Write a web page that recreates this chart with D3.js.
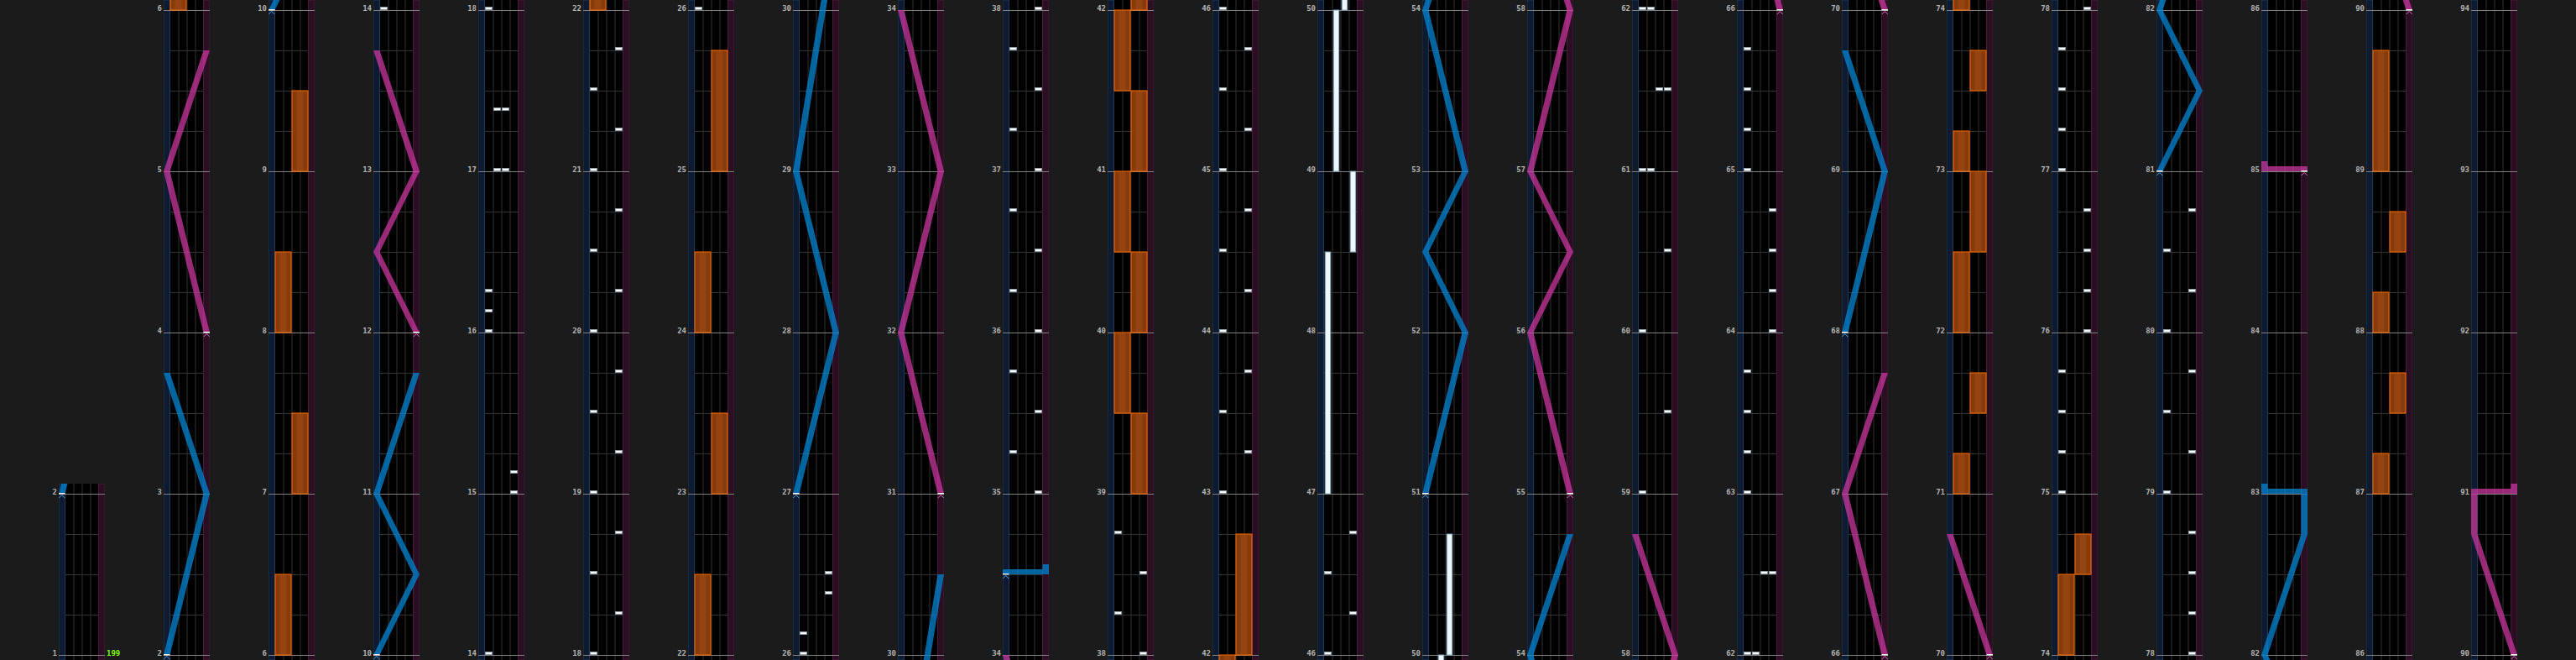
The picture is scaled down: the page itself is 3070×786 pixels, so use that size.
<!DOCTYPE html>
<html><head><meta charset="utf-8">
<script src="https://cdn.jsdelivr.net/npm/d3@7/dist/d3.min.js"></script>
<style>html,body{margin:0;padding:0;background:#1b1b1b;overflow:hidden}</style>
</head><body>
<svg id="chart" width="3070" height="786"></svg>
<script>
// ---------- DATA (positions in measures; lane 0..3 = BT A..D; fx side 0 = L, 1 = R; laser pos 0 = left, 1 = right) ----------
const columnStarts = [1,2,6,10,14,18,22,26,30,34,38,42,46,50,54,58,62,66,70,74,78,82,86,90];
const bpmLabel = "199";

const btChips = [
  [14,0],[15,3],[15.125,3],[16,0],[16.125,0],[16.25,0],[17,1],[17,2],[17.375,1],[17.375,2],[18,0],
  [18.25,3],[18.5,0],[18.75,3],[19,0],[19.25,3],[19.5,0],[19.75,3],[20,0],[20.25,3],[20.5,0],[20.75,3],
  [21,0],[21.25,3],[21.5,0],[21.75,3],
  [26,0],[26.125,0],[26.375,3],[26.5,3],
  [35,3],[35.25,0],[35.5,3],[35.75,0],[36,3],[36.25,0],[36.5,3],[36.75,0],[37,3],[37.25,0],[37.5,3],[37.75,0],
  [38,3],[38.25,0],[38.5,3],[38.75,0],
  [43,0],[43.25,3],[43.5,0],[43.75,3],[44,0],[44.25,3],[44.5,0],[44.75,3],[45,0],[45.25,3],[45.5,0],[45.75,3],
  [46,0],[46.25,3],[46.5,0],[46.75,3],
  [59,0],[59.5,3],[60,0],[60.5,3],[61,0],[61,1],[61.5,2],[61.5,3],[62,0],[62,1],[62.5,2],[62.5,3],
  [63,0],[63.25,0],[63.5,0],[63.75,0],[64,3],[64.25,3],[64.5,3],[64.75,3],[65,0],[65.25,0],[65.5,0],[65.75,0],
  [75,0],[75.25,0],[75.5,0],[75.75,0],[76,3],[76.25,3],[76.5,3],[76.75,3],[77,0],[77.25,0],[77.5,0],[77.75,0],
  [78,3],[78.25,3],[78.5,3],[78.75,3],[79,0],[79.25,3],[79.5,0],[79.75,3],[80,0],[80.25,3],[80.5,0],[80.75,3]
];

const btHolds = [[47,48.5,0],[48.5,49,3],[49,50,1],[50,50.75,2]];

const fxHolds = [
  [6,6.5,0],[7,7.5,1],[8,8.5,0],[9,9.5,1],
  [22,22.5,0],[23,23.5,1],[24,24.5,0],[25,25.75,1],
  [39,39.5,1],[39.5,40,0],[40,40.5,1],[40.5,41,0],[41,41.5,1],[41.5,42,0],[42,42.75,1],
  [71,71.25,0],[71.5,71.75,1],[72,72.5,0],[72.5,73,1],[73,73.25,0],[73.5,73.75,1],[74,74.5,0],[74.5,74.75,1],
  [87,87.25,0],[87.5,87.75,1],[88,88.25,0],[88.5,88.75,1],[89,89.75,0]
];

const laserLeft = [
  [[2,0],[3,1],[3.75,0]],
  [[10,0],[10.5,1],[11,0],[11.75,1]],
  [[27,0],[28,1],[29,0],[30.5,1]],
  [[34.5,0],[34.5,1]],
  [[51,0],[52,1],[52.5,0],[53,1],[54,0],[54.75,1]],
  [[68,0],[69,1],[69.75,0]],
  [[81,0],[81.5,1],[82,0],[82.75,1],[83,1],[83,0]]
];
const laserRight = [
  [[4,1],[5,0],[5.75,1]],
  [[12,1],[12.5,0],[13,1],[13.75,0]],
  [[31,1],[32,0],[33,1],[34,0]],
  [[55,1],[56,0],[56.5,1],[57,0],[58,1],[58.75,0]],
  [[66,1],[67,0],[67.75,1]],
  [[70,1],[70.75,0]],
  [[85,1],[85,0]],
  [[90,1],[90.75,0],[91,0],[91,1]]
];

// ---------- LAYOUT / STYLE ----------
const W = 3070, H = 786;
const colX0 = 70, colStep = 125, colW = 55, laserW = 7.5, btW = 10;
const mPx = 192, bottomY = 780;
const beatsPerMeasure = 4;

const svg = d3.select('#chart');
svg.append('rect').attr('width', W).attr('height', H).attr('fill', '#1b1b1b');
const defs = svg.append('defs');

const colIndex = d3.scaleLinear().domain([0, 1]).range([colX0, colX0 + colStep]);

function laserPath(pts, x, y) {
  let d = '';
  const rect = (xl, xr, yb, yt) => `M${xl},${yb}L${xr},${yb}L${xr},${yt}L${xl},${yt}Z`;
  for (let i = 0; i < pts.length - 1; i++) {
    const a = pts[i], b = pts[i + 1];
    if (a[0] === b[0]) {
      const xl = Math.min(x(a[1]), x(b[1])), xr = Math.max(x(a[1]), x(b[1])) + laserW;
      const yb = y(a[0]);
      d += rect(xl, xr, yb, yb - 6);
    } else {
      d += `M${x(a[1])},${y(a[0])}L${x(a[1]) + laserW},${y(a[0])}L${x(b[1]) + laserW},${y(b[0])}L${x(b[1])},${y(b[0])}Z`;
    }
  }
  const n = pts.length;
  if (n >= 2 && pts[n - 1][0] === pts[n - 2][0]) {
    const e = pts[n - 1];
    d += rect(x(e[1]), x(e[1]) + laserW, y(e[0]), y(e[0]) - 12);
  }
  return d;
}

columnStarts.forEach((base, i) => {
  const x0 = colIndex(i);
  const span = i === 0 ? 1 : 4;
  const y = d3.scaleLinear().domain([base, base + span]).range([bottomY, bottomY - span * mPx]);
  const topM = base + span + 0.0625;
  const topY = Math.max(0, y(topM));
  const loM = y.invert(H);
  const xL = d3.scaleLinear().domain([0, 1]).range([x0, x0 + colW - laserW]);
  const lane = d3.scaleLinear().domain([0, 4]).range([x0 + laserW, x0 + laserW + 4 * btW]);
  const inView = (a, b) => b >= loM - 0.1 && a <= topM + 0.1;

  const clipId = 'clip' + i;
  defs.append('clipPath').attr('id', clipId).append('rect')
    .attr('x', x0).attr('y', topY).attr('width', colW).attr('height', H - topY);

  const g = svg.append('g').attr('clip-path', `url(#${clipId})`);
  g.append('rect').attr('x', x0).attr('y', topY).attr('width', colW).attr('height', H - topY).attr('fill', '#000');

  // laser lanes
  g.append('rect').attr('x', x0).attr('y', topY).attr('width', laserW).attr('height', H - topY)
    .attr('fill', '#0e1a30').attr('stroke', '#1f3a58').attr('stroke-width', 1);
  g.append('rect').attr('x', x0 + colW - laserW).attr('y', topY).attr('width', laserW).attr('height', H - topY)
    .attr('fill', '#2a0e22').attr('stroke', '#4c1a3c').attr('stroke-width', 1);

  // lane dividers
  [1, 2, 3].forEach(k => {
    g.append('line').attr('x1', lane(k) + 0.5).attr('x2', lane(k) + 0.5).attr('y1', topY).attr('y2', H)
      .attr('stroke', '#333').attr('stroke-width', 1);
  });

  // beat lines
  const beats = [];
  for (let m = Math.ceil(loM); m <= topM; m++) {
    for (let b = 1; b < beatsPerMeasure; b++) {
      const t = m + b / beatsPerMeasure;
      if (t >= loM && t <= topM) beats.push(t);
    }
  }
  g.selectAll('line.beat').data(beats).enter().append('line')
    .attr('x1', lane(0)).attr('x2', lane(4)).attr('y1', d => Math.round(y(d)) + 0.5).attr('y2', d => Math.round(y(d)) + 0.5)
    .attr('stroke', '#333').attr('stroke-width', 1);

  // measure lines
  const measures = d3.range(base, base + span + 1);
  g.selectAll('line.meas').data(measures).enter().append('line')
    .attr('x1', x0).attr('x2', x0 + colW).attr('y1', d => y(d) + 0.5).attr('y2', d => y(d) + 0.5)
    .attr('stroke', '#808080').attr('stroke-width', 1);

  // FX holds
  fxHolds.filter(d => inView(d[0], d[1])).forEach(d => {
    const xl = lane(d[2] * 2) + 0.5, w = 2 * btW - 1;
    g.append('rect').attr('x', xl).attr('y', y(d[1])).attr('width', w).attr('height', y(d[0]) - y(d[1]))
      .attr('fill', '#873b0b').attr('stroke', '#ff6c00').attr('stroke-width', 1);
    g.append('rect').attr('x', xl + w / 2 - 4).attr('y', y(d[1]) + 1).attr('width', 8).attr('height', y(d[0]) - y(d[1]) - 2)
      .attr('fill', 'rgba(255,150,70,0.10)');
  });

  // BT holds
  btHolds.filter(d => inView(d[0], d[1])).forEach(d => {
    g.append('rect').attr('x', lane(d[2]) + 1.75).attr('y', y(d[1])).attr('width', 6.5).attr('height', y(d[0]) - y(d[1]))
      .attr('fill', '#eef7fb').attr('stroke', '#7fa6bd').attr('stroke-width', 1);
  });

  // BT chips
  g.selectAll('rect.chip').data(btChips.filter(d => inView(d[0], d[0]))).enter().append('rect')
    .attr('x', d => lane(d[1]) + 1).attr('y', d => y(d[0]) - 3.5).attr('width', btW - 2).attr('height', 3)
    .attr('fill', '#ffffff').attr('stroke', '#93a3b5').attr('stroke-width', 0.8);

  // lasers
  const drawLasers = (list, fill, mark) => {
    list.forEach(pts => {
      const ms = pts.map(p => p[0]);
      if (!inView(d3.min(ms), d3.max(ms) + 0.07)) return;
      g.append('path').attr('d', laserPath(pts, xL, y)).attr('fill', fill).attr('fill-rule', 'nonzero');
      const s = pts[0];
      const sx = xL(s[1]), sy = y(s[0]);
      g.append('rect').attr('x', sx).attr('y', sy - 1).attr('width', laserW).attr('height', 1.5).attr('fill', '#f4f4f4');
      const cx = sx + laserW / 2;
      g.append('path').attr('d', `M${cx - 3.5},${sy + 5}L${cx},${sy + 1.5}L${cx + 3.5},${sy + 5}`)
        .attr('fill', 'none').attr('stroke', mark).attr('stroke-width', 1);
    });
  };
  drawLasers(laserLeft, 'rgba(0,135,215,0.74)', '#4aa6e0');
  drawLasers(laserRight, 'rgba(205,55,160,0.74)', '#e070c0');

  // measure labels
  svg.append('g').selectAll('text').data(measures).enter().append('text')
    .attr('x', x0 - 2).attr('y', d => y(d) + 0.5).attr('text-anchor', 'end')
    .attr('font-family', 'DejaVu Sans Mono, monospace').attr('font-weight', 'bold').attr('font-size', 9)
    .attr('fill', '#b3b3b3').text(d => d);

  if (i === 0) {
    svg.append('text').attr('x', x0 + colW + 2).attr('y', y(base) + 0.5)
      .attr('font-family', 'DejaVu Sans Mono, monospace').attr('font-weight', 'bold').attr('font-size', 9)
      .attr('fill', '#7fff00').text(bpmLabel);
  }
});
</script>
</body></html>
